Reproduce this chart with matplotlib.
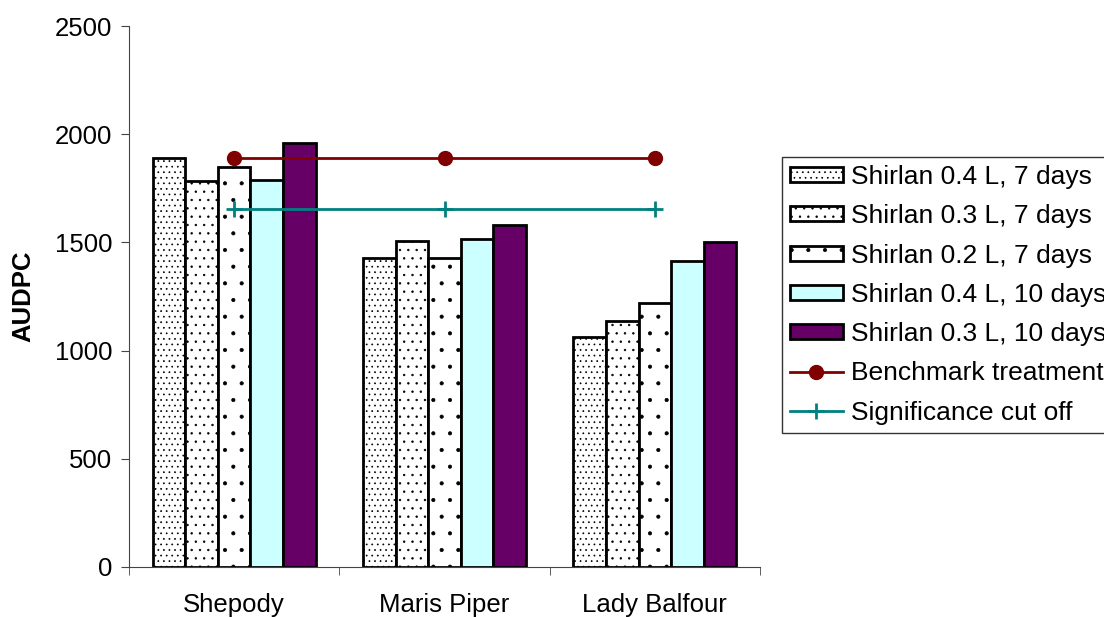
import matplotlib
matplotlib.use('Agg')
import matplotlib.pyplot as plt
import numpy as np

plt.rcParams['font.family'] = ['Liberation Sans', 'DejaVu Sans']
plt.rcParams['hatch.linewidth'] = 0.5

varieties = ['Shepody', 'Maris Piper', 'Lady Balfour']
treatments = ['Shirlan 0.4 L, 7 days', 'Shirlan 0.3 L, 7 days',
              'Shirlan 0.2 L, 7 days', 'Shirlan 0.4 L, 10 days',
              'Shirlan 0.3 L, 10 days']
audpc = [
    [1890, 1430, 1065],   # 0.4 L, 7 days
    [1785, 1505, 1135],   # 0.3 L, 7 days
    [1850, 1430, 1220],   # 0.2 L, 7 days
    [1790, 1515, 1415],   # 0.4 L, 10 days
    [1960, 1580, 1500],   # 0.3 L, 10 days
]
benchmark = [1890, 1890, 1890]
cutoff = [1655, 1655, 1655]

fills = ['white', 'white', 'white', '#CCFFFF', '#660066']
hatches = ['...', '..', '.', None, None]
fs = 18.5

fig = plt.figure(figsize=(11.04, 6.17), dpi=100)
ax = fig.add_axes([129/1104, 1 - 567/617, (760 - 129)/1104, (567 - 26)/617])

x = np.arange(len(varieties))
w = 0.776 / len(treatments)
bars = []
for i, (name, vals) in enumerate(zip(treatments, audpc)):
    b = ax.bar(x + (i - 2) * w, vals, w, color=fills[i], edgecolor='black',
               linewidth=2, hatch=hatches[i], label=name, zorder=2)
    bars.append(b)

l1, = ax.plot(x, benchmark, color='#800000', lw=2, marker='o', ms=10,
              label='Benchmark treatment', zorder=3)
l2, = ax.plot(x, cutoff, color='#008080', lw=2, marker='+', ms=11, mew=2,
              label='Significance cut off', zorder=3)

ax.set_xlim(-0.5, 2.5)
ax.set_ylim(0, 2500)
ax.set_yticks(range(0, 2501, 500))
ax.set_xticks(x)
ax.set_xticklabels(varieties)
ax.set_xticks([-0.5, 0.5, 1.5, 2.5], minor=True)
ax.tick_params(axis='x', which='major', length=0, pad=19, labelsize=fs)
ax.tick_params(axis='x', which='minor', length=6, direction='out', color='#444444')
ax.tick_params(axis='y', length=6, direction='out', labelsize=fs, color='#444444', pad=6)
for s in ['top', 'right']:
    ax.spines[s].set_visible(False)
for s in ['left', 'bottom']:
    ax.spines[s].set_color('#444444')
ax.set_ylabel('AUDPC', fontsize=fs, fontweight='bold', labelpad=14)

handles = bars + [l1, l2]
leg = ax.legend(handles, [h.get_label() for h in handles],
                loc='upper left', bbox_to_anchor=(782/1104, 1 - 157/617),
                bbox_transform=fig.transFigure, fontsize=19, frameon=True,
                fancybox=False, edgecolor='black', handlelength=2.0,
                handleheight=0.5, labelspacing=0.58, handletextpad=0.3,
                borderpad=0.3, borderaxespad=0)
leg.get_frame().set_linewidth(1.0)

fig.savefig('out.png', dpi=100)
